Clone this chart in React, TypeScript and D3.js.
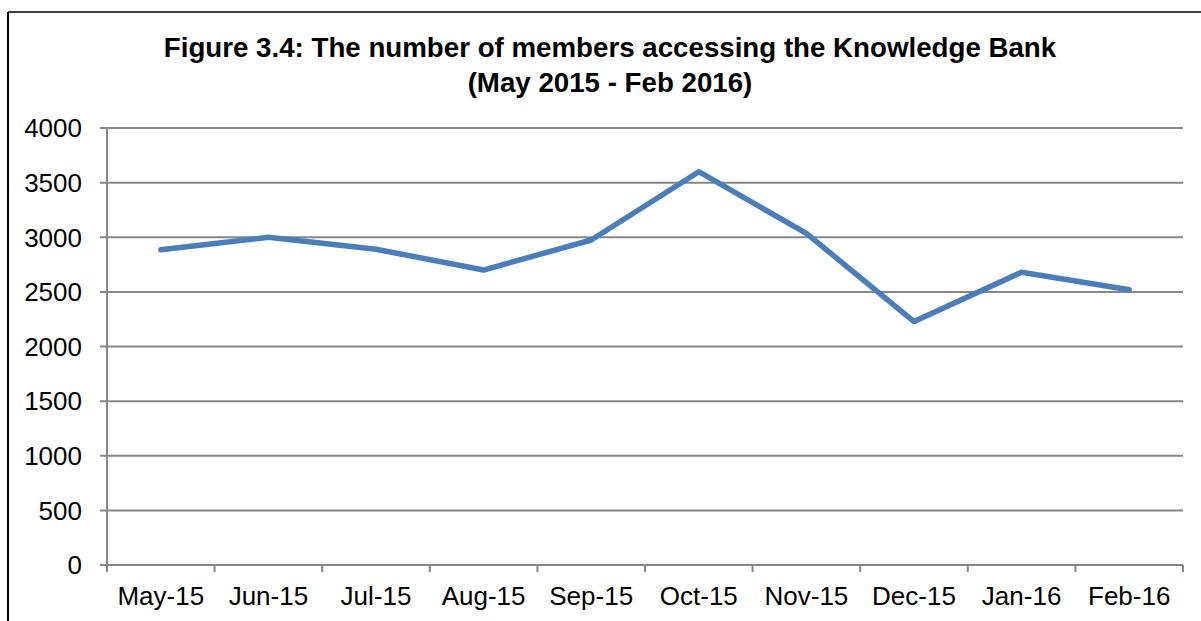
import React from "react";
import * as d3 from "d3";

const months = ["May-15", "Jun-15", "Jul-15", "Aug-15", "Sep-15", "Oct-15", "Nov-15", "Dec-15", "Jan-16", "Feb-16"];
const members = [2885, 3000, 2890, 2700, 2975, 3600, 3035, 2228, 2680, 2520];
const yTicks = [0, 500, 1000, 1500, 2000, 2500, 3000, 3500, 4000];
const titleLines = ["Figure 3.4: The number of members accessing the Knowledge Bank", "(May 2015 - Feb 2016)"];

export default function App() {
  const W = 1201, H = 621;
  const left = 107, right = 1183, top = 128, bottom = 565;
  const x = d3.scaleBand<string>().domain(months).range([left, right]);
  const y = d3.scaleLinear().domain([0, 4000]).range([bottom, top]);
  const line = d3.line<number>()
    .x((_, i) => (x(months[i]) as number) + x.bandwidth() / 2)
    .y((d) => y(d));
  const font = "'Liberation Sans', Arial, sans-serif";
  const grid = "#878787";
  return (
    <div style={{ position: "absolute", left: 0, top: 0 }}>
      <svg width={W} height={H} style={{ display: "block" }}>
        <rect x={0} y={0} width={W} height={H} fill="#fff" />
        <line x1={8} y1={12} x2={W} y2={12} stroke="#000" strokeWidth={1.5} />
        <line x1={8} y1={12} x2={8} y2={H} stroke="#000" strokeWidth={2} />
        {titleLines.map((t, i) => (
          <text key={i} x={610} y={57 + i * 35} textAnchor="middle" fontFamily={font} fontWeight="bold" fontSize={27.7} fill="#000">{t}</text>
        ))}
        {yTicks.map((v) => (
          <g key={v}>
            <line x1={100} x2={right} y1={y(v)} y2={y(v)} stroke={grid} strokeWidth={2} />
            <text x={82} y={y(v)} dy="0.36em" textAnchor="end" fontFamily={font} fontSize={26} fill="#000">{v}</text>
          </g>
        ))}
        <line x1={left} x2={left} y1={top} y2={bottom} stroke={grid} strokeWidth={2} />
        {months.map((m, i) => (
          <line key={"t" + i} x1={(x(m) as number) + x.bandwidth()} x2={(x(m) as number) + x.bandwidth()} y1={bottom} y2={bottom + 7} stroke={grid} strokeWidth={2} />
        ))}
        <line x1={left} x2={left} y1={bottom} y2={bottom + 7} stroke={grid} strokeWidth={2} />
        {months.map((m) => (
          <text key={m} x={(x(m) as number) + x.bandwidth() / 2} y={605} textAnchor="middle" fontFamily={font} fontSize={26} fill="#000">{m}</text>
        ))}
        <path d={line(members) || ""} fill="none" stroke="#4a7ebb" strokeWidth={5.5} strokeLinejoin="round" strokeLinecap="round" />
      </svg>
    </div>
  );
}
